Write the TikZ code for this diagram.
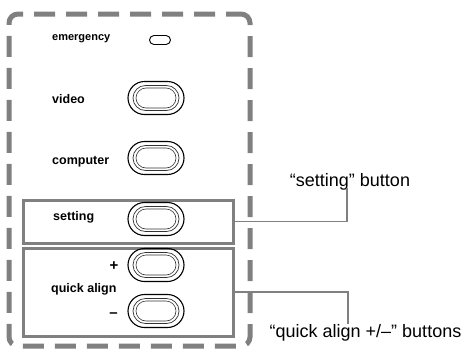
\documentclass[tikz,border=0pt]{standalone}
\usepackage{fontspec}
\setmainfont{Liberation Sans}
\usetikzlibrary{shapes.misc,calc}
\definecolor{halft}{gray}{0.5}
\tikzset{
  lbl/.style={font=\bfseries\fontsize{12.5}{14}\selectfont, anchor=base west, inner sep=0pt},
  sgn/.style={font=\bfseries\fontsize{15}{17}\selectfont, anchor=base east, inner sep=0pt},
  calltxt/.style={font=\fontsize{18}{20}\selectfont, anchor=base, inner sep=0pt},
  btnout/.style={rounded rectangle, draw=black, line width=1.1pt, minimum width=56pt, minimum height=33pt, inner sep=0pt},
  btnin/.style={rounded rectangle, draw=black!80, line width=0.7pt, minimum width=46pt, minimum height=25pt, inner sep=0pt},
  btninn/.style={rounded rectangle, draw=black!80, line width=0.6pt, minimum width=40pt, minimum height=20pt, inner sep=0pt},
  smallbtn/.style={rounded rectangle, draw=black, line width=0.9pt, minimum width=21pt, minimum height=9pt, inner sep=0pt},
  panel/.style={draw=halft, line width=5pt, dash pattern=on 21pt off 11pt, dash phase=6pt, rounded corners=9pt, inner sep=0pt},
  grpbox/.style={draw=halft, line width=3pt, inner sep=0pt},
  callout/.style={draw=halft, line width=1.8pt}
}
\begin{document}
\begin{tikzpicture}[x=1pt,y=-1pt]
\useasboundingbox (0,0) rectangle (471,351);
% panel
\node[panel, minimum width=241pt, minimum height=332pt] (panel) at (129.5,180) {};
% group boxes
\node[grpbox, minimum width=209.5pt, minimum height=43pt] (setbox) at (128.25,221.5) {};
\node[grpbox, minimum width=209.5pt, minimum height=88pt] (qbox) at (128.25,292) {};
% labels
\node[lbl, font=\bfseries\fontsize{11}{13}\selectfont] (lemerg) at (52,40) {emergency};
\node[lbl] (lvideo) at (52,103) {video};
\node[lbl] (lcomp) at (52,164) {computer};
\node[lbl] (lset) at (53,220) {setting};
\node[lbl] (lquick) at (51,292) {quick align};
\node[sgn] (lplus) at (118.5,270.5) {+};
\node[sgn] (lminus) at (118,317) {–};
% buttons
\node[smallbtn] (bemerg) at (160,40) {};
\foreach \n/\y in {bvideo/98, bcomp/158, bset/219, bplus/265, bminus/311}{
  \node[btnout] (\n) at (156,\y) {};
  \node[btnin] (\n-in) at (\n) {};
  \node[btninn] (\n-inn) at (\n) {};
}
% callouts
\node[calltxt] (tset) at (350,186) {“setting” button};
\node[calltxt] (tquick) at (365.5,337) {“quick align +/–” buttons};
\coordinate (cset) at (347,188);
\coordinate (cquick) at (348,324);
\draw[callout] (setbox.east) -| (cset);
\draw[callout] (qbox.east) -| (cquick);
\end{tikzpicture}
\end{document}
